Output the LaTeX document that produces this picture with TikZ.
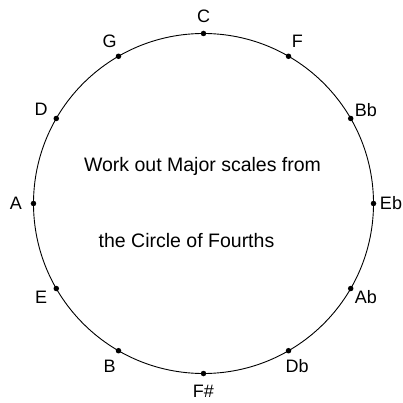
\documentclass[tikz,border=0pt]{standalone}
\usepackage{fontspec}
\setmainfont{Liberation Sans}
\begin{document}
\begin{tikzpicture}[x=1pt,y=1pt,
  ring/.style={draw=black,line width=0.9pt},
  keydot/.style={circle,fill=black,inner sep=0pt,minimum size=5.5pt},
  keylabel/.style={font=\fontsize{18}{20}\selectfont,inner sep=0pt},
  caption/.style={font=\fontsize{19.5}{22}\selectfont,inner sep=0pt}]
\useasboundingbox (-203.5,-199.5) rectangle (198.5,203.5);
\coordinate (O) at (0,0);
\draw[ring] (O) circle (170);
\foreach \name/\ang/\lab in {C/90/C, F/60/F, Bb/30/Bb, Eb/0/Eb, Ab/-30/Ab, Db/-60/Db,
  Fs/-90/F\#, B/-120/B, E/-150/E, A/180/A, D/150/D, G/120/G}{
  \node[keydot] (d\name) at (\ang:170) {};
  \node[keylabel] (l\name) at (\ang:187.5) {\lab};
}
\node[caption] (t1) at (-1,37.5) {Work out Major scales from};
\node[caption] (t2) at (-17,-37.5) {the Circle of Fourths};
\end{tikzpicture}
\end{document}
